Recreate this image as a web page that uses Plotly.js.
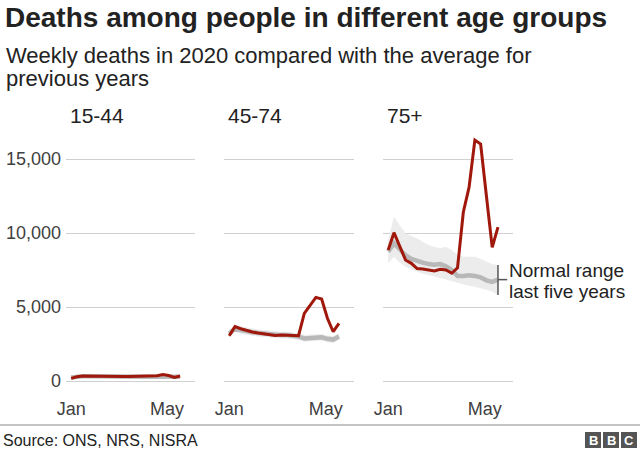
<!DOCTYPE html>
<html>
<head>
<meta charset="utf-8">
<script src="https://cdn.plot.ly/plotly-3.0.1.min.js"></script>
<style>html,body{margin:0;padding:0;background:#fff;}#chart{width:640px;height:450px;}</style>
</head>
<body>
<div id="chart"></div>
<script>
// ---------- data ----------
const weeks = [1,2,3,4,5,6,7,8,9,10,11,12,13,14,15,16,17,18,19,20];
const groups = ["15-44", "45-74", "75+"];

const deaths1544 = [180, 290, 340, 330, 320, 320, 310, 320, 310, 300, 310, 320, 310, 300, 320, 360, 440, 370, 240, 340];
const avg1544    = [230, 300, 320, 320, 310, 310, 300, 300, 300, 300, 300, 300, 290, 290, 290, 290, 290, 280, 280, 290];
const upper1544  = [300, 370, 390, 390, 380, 380, 370, 370, 370, 370, 370, 370, 360, 360, 360, 360, 360, 350, 350, 360];
const lower1544  = [160, 230, 250, 250, 240, 240, 230, 230, 230, 230, 230, 230, 220, 220, 220, 220, 220, 210, 210, 220];

const deaths4574 = [3060, 3670, 3530, 3400, 3310, 3240, 3180, 3110, 3080, 3110, 3100, 3100, 3060, 4570, 5135, 5650, 5540, 4240, 3330, 3900];
const avg4574    = [3200, 3550, 3450, 3350, 3300, 3250, 3200, 3150, 3120, 3100, 3100, 3080, 3000, 2880, 2900, 2950, 2950, 2850, 2800, 3000];
const upper4574  = [3450, 3800, 3700, 3600, 3550, 3480, 3430, 3380, 3350, 3330, 3330, 3300, 3220, 3100, 3120, 3170, 3170, 3080, 3030, 3220];
const lower4574  = [2950, 3300, 3200, 3100, 3050, 3000, 2960, 2920, 2890, 2870, 2870, 2850, 2780, 2660, 2680, 2730, 2730, 2620, 2570, 2780];

const deaths75 = [8850, 10020, 9100, 8180, 7950, 7600, 7570, 7500, 7430, 7545, 7500, 7280, 7650, 11400, 13100, 16280, 16010, 12500, 9030, 10400];
const avg75    = [8740, 9300, 8900, 8500, 8250, 8100, 8000, 7900, 7850, 7900, 7750, 7500, 7100, 7100, 7150, 7100, 7000, 6800, 6700, 6850];
const upper75  = [9530, 11100, 10500, 9980, 9800, 9640, 9400, 9190, 9050, 8970, 9070, 8850, 8510, 8400, 8400, 8400, 8250, 8060, 7900, 7840];
const lower75  = [7950, 8400, 8000, 7720, 7550, 7385, 7250, 7160, 7050, 6940, 6820, 6710, 6600, 6490, 6430, 6370, 6260, 6150, 6040, 5810];

const yTickVals = [0, 5000, 10000, 15000];
const xTickVals = [1, 17.7];
const xTickText = ["Jan", "May"];

// ---------- layout helpers ----------
const FONT = "Liberation Sans, Arial, Helvetica, sans-serif";
const M = {l: 66, r: 127, t: 122, b: 54};
const PW = 640 - M.l - M.r, PH = 450 - M.t - M.b;
const px = x => (x - M.l) / PW;
const py = y => (450 - M.b - y) / PH;

const RED = "#a0170b", GREY = "#b8b8b8", BAND = "#ececec";

const panels = [
  {x: "x",  d: deaths1544, a: avg1544, u: upper1544, lo: lower1544},
  {x: "x2", d: deaths4574, a: avg4574, u: upper4574, lo: lower4574},
  {x: "x3", d: deaths75,   a: avg75,   u: upper75,   lo: lower75}
];

const traces = [];
panels.forEach(p => {
  traces.push({x: weeks, y: p.lo, xaxis: p.x, yaxis: "y", mode: "lines",
    line: {width: 0, color: BAND}, hoverinfo: "skip", showlegend: false});
  traces.push({x: weeks, y: p.u, xaxis: p.x, yaxis: "y", mode: "lines", fill: "tonexty",
    fillcolor: BAND, line: {width: 0, color: BAND}, hoverinfo: "skip", showlegend: false});
  traces.push({x: weeks, y: p.a, xaxis: p.x, yaxis: "y", mode: "lines",
    line: {width: 4.5, color: GREY}, showlegend: false});
  traces.push({x: weeks, y: p.d, xaxis: p.x, yaxis: "y", mode: "lines",
    line: {width: 3, color: RED}, showlegend: false});
});

const xbase = {
  range: [0.1, 22.6], showgrid: false, zeroline: false, showline: false,
  tickvals: xTickVals, ticktext: xTickText, ticks: "",
  tickfont: {family: FONT, size: 18, color: "#404040"}, anchor: "y", fixedrange: true
};
const doms = [[px(66), px(195)], [px(224), px(354)], [px(383), px(513)]];

const tx = (x, y, text, size, extra) => Object.assign({
  xref: "paper", yref: "paper", x: px(x), y: py(y), text: text, showarrow: false,
  xanchor: "left", yanchor: "middle", borderpad: 0, font: {family: FONT, size: size, color: "#222"}
}, extra || {});

const n = weeks.length - 1;
const layout = {
  width: 640, height: 450, margin: M,
  paper_bgcolor: "#fff", plot_bgcolor: "#fff",
  title: {text: "<b>Deaths among people in different age groups</b>",
    xref: "container", yref: "container", x: 5/640, xanchor: "left",
    y: 1 - 17/450, yanchor: "middle", font: {family: FONT, size: 28, color: "#222"}},
  xaxis:  Object.assign({}, xbase, {domain: doms[0]}),
  xaxis2: Object.assign({}, xbase, {domain: doms[1]}),
  xaxis3: Object.assign({}, xbase, {domain: doms[2]}),
  yaxis: {
    range: [-1013.5, 17500], tickvals: yTickVals, tickformat: ",d",
    showgrid: true, gridcolor: "#d0d0d0", gridwidth: 1, zeroline: false, showline: false,
    ticks: "", ticklabelstandoff: 4, tickfont: {family: FONT, size: 18, color: "#404040"},
    anchor: "x", fixedrange: true
  },
  shapes: [
    {type: "line", xref: "x3", yref: "y", x0: weeks[n], x1: weeks[n], y0: lower75[n], y1: upper75[n],
      line: {color: "#555", width: 1.5}},
    {type: "line", xref: "x3", yref: "y", x0: weeks[n], x1: weeks[n] + 1.6, y0: avg75[n], y1: avg75[n],
      line: {color: "#555", width: 1.5}},
    {type: "line", xref: "paper", yref: "paper", x0: px(0), x1: px(640), y0: py(425), y1: py(425),
      line: {color: "#888", width: 1}},
    {type: "rect", xref: "paper", yref: "paper", x0: px(585), x1: px(601), y0: py(448), y1: py(432),
      fillcolor: "#555", line: {width: 0}},
    {type: "rect", xref: "paper", yref: "paper", x0: px(603), x1: px(619), y0: py(448), y1: py(432),
      fillcolor: "#555", line: {width: 0}},
    {type: "rect", xref: "paper", yref: "paper", x0: px(621), x1: px(637), y0: py(448), y1: py(432),
      fillcolor: "#555", line: {width: 0}}
  ],
  annotations: [
    tx(5, 55, "Weekly deaths in 2020 compared with the average for", 22),
    tx(5, 78.5, "previous years", 22),
    tx(69, 115, groups[0], 21),
    tx(227, 115, groups[1], 21),
    tx(386, 115, groups[2], 21),
    tx(508, 270, "Normal range", 19),
    tx(508, 291, "last five years", 19),
    tx(2, 440, "Source: ONS, NRS, NISRA", 16),
    tx(593, 440, "<b>B</b>", 13, {xanchor: "center", font: {family: FONT, size: 13, color: "#fff"}}),
    tx(611, 440, "<b>B</b>", 13, {xanchor: "center", font: {family: FONT, size: 13, color: "#fff"}}),
    tx(629, 440, "<b>C</b>", 13, {xanchor: "center", font: {family: FONT, size: 13, color: "#fff"}})
  ]
};

Plotly.newPlot("chart", traces, layout, {displayModeBar: false, staticPlot: true});
</script>
</body>
</html>
